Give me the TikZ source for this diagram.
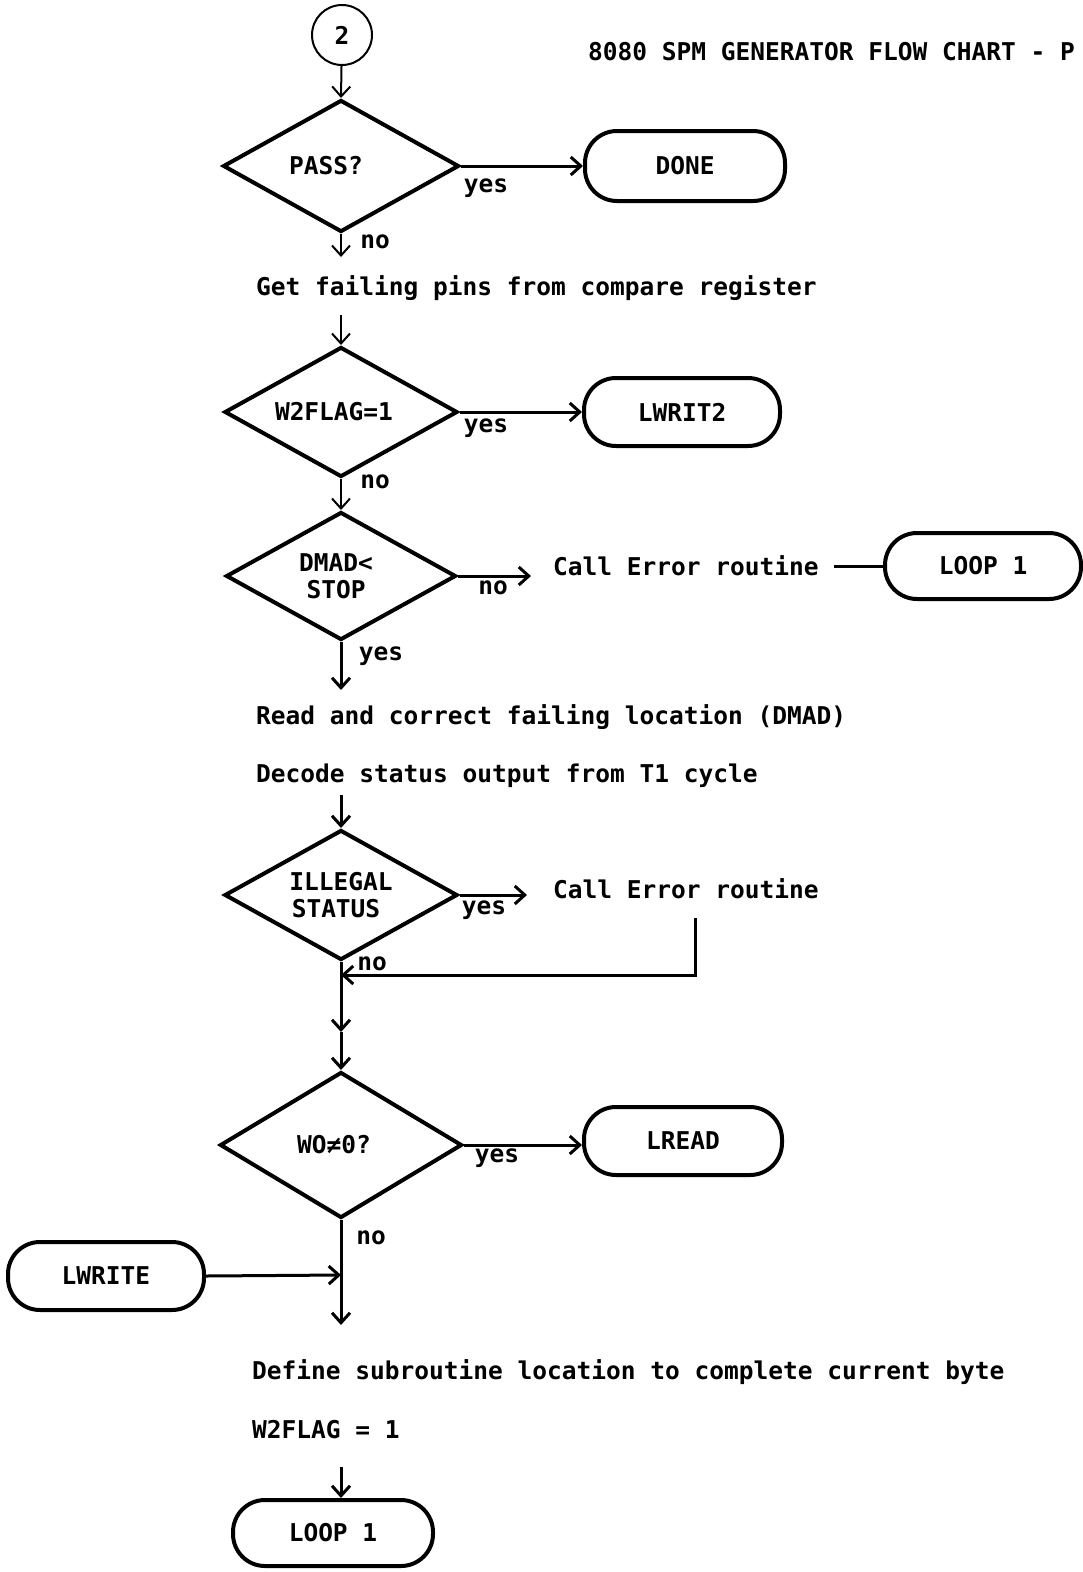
\documentclass[tikz,border=0pt]{standalone}
\usepackage{fontspec}
\setmonofont{DejaVu Sans Mono}
\usetikzlibrary{shapes.geometric,arrows.meta}
\begin{document}
\begin{tikzpicture}[x=1pt,y=-1pt,
  every node/.style={font=\ttfamily\bfseries\fontsize{24.5}{27}\selectfont},
  dec/.style={diamond, aspect=1.8, draw, line width=4pt, inner sep=0pt, align=center},
  term/.style={rectangle, draw, line width=4pt, rounded corners=32pt, minimum width=198pt, minimum height=68pt},
  conn/.style={line width=3pt, -{Straight Barb[length=10pt,width=18pt]}},
  lbl/.style={inner sep=0pt},
  txt/.style={anchor=west, inner sep=0pt}]
\useasboundingbox[fill=white] (0,0) rectangle (1082,1572);
% nodes
\node[circle,draw,line width=2pt,minimum size=60pt,inner sep=0pt] (c2) at (342,35) {2};
\node[txt] (title) at (588,52) {8080 SPM GENERATOR FLOW CHART - P};
\node[dec,minimum width=236pt,minimum height=132pt] (pass) at (341,166) {PASS?\hspace*{30pt}};
\node[term,minimum width=200pt,minimum height=70pt] (done) at (685,166) {DONE};
\node[txt] (get) at (256,288) {Get failing pins from compare register};
\node[dec,minimum width=233pt,minimum height=130pt] (w2f) at (341,412) {W2FLAG=1\hspace*{14pt}};
\node[term,minimum width=196pt] (lwrit2) at (682,412) {LWRIT2};
\node[dec,minimum width=230pt,minimum height=128pt] (dmad) at (341,576) {DMAD<\hspace*{10pt}\\STOP\hspace*{10pt}};
\node[txt] (call1) at (553,566) {Call Error routine};
\node[term,minimum width=196pt,minimum height=66pt] (loopa) at (983,566) {LOOP 1};
\node[txt] (read) at (256,717) {Read and correct failing location (DMAD)};
\node[txt] (decode) at (256,776) {Decode status output from T1 cycle};
\node[dec,minimum width=233pt,minimum height=130pt] (ill) at (341,895) {ILLEGAL\\STATUS\hspace*{10pt}};
\node[txt] (call2) at (553,889) {Call Error routine};
\node[dec,minimum width=242pt,minimum height=146pt] (wo) at (341,1145) {WO≠0?\hspace*{14pt}};
\node[term] (lread) at (683,1141) {LREAD};
\node[term,minimum width=196pt] (lwrite) at (106,1276) {LWRITE};
\node[txt] (define) at (252,1372) {Define subroutine location to complete current byte};
\node[txt] (w2set) at (252,1430) {W2FLAG = 1};
\node[term,minimum width=200pt,minimum height=66pt] (loopb) at (333,1533) {LOOP 1};
% labels
\node[lbl] (l1) at (486,188) {yes};
\node[lbl] (l2) at (375,242) {no};
\node[lbl] (l3) at (486,428) {yes};
\node[lbl] (l4) at (375,482) {no};
\node[lbl] (l5) at (493,588) {no};
\node[lbl] (l6) at (381,656) {yes};
\node[lbl] (l7) at (484,910) {yes};
\node[lbl] (l8) at (372,964) {no};
\node[lbl] (l9) at (497,1158) {yes};
\node[lbl] (l10) at (371,1238) {no};
% coordinates
\coordinate (p1) at (341,257);
\coordinate (p2) at (341,315);
\coordinate (p3) at (341,690);
\coordinate (p4) at (341,795);
\coordinate (e1) at (695,918);
\coordinate (e2) at (695,975);
\coordinate (j) at (341,975);
\coordinate (m) at (341,1032);
\coordinate (p5) at (341,1325);
\coordinate (p6) at (341,1275);
\coordinate (p7) at (341,1467);
% connectors
\draw[conn,line width=2pt] (c2) -- (pass.north);
\draw[conn] (pass.east) -- (pass.east -| done.west);
\draw[conn,line width=2pt] (pass.south) -- (p1);
\draw[conn,line width=2pt] (p2) -- (w2f.north);
\draw[conn] (w2f.east) -- (w2f.east -| lwrit2.west);
\draw[conn,line width=2pt] (w2f.south) -- (dmad.north);
\draw[conn,shorten >=22pt] (dmad.east) -- (dmad.east -| call1.west);
\draw[line width=3pt,shorten <=15pt] (call1.east) -- (loopa.west);
\draw[conn] (dmad.south) -- (p3);
\draw[conn] (p4) -- (ill.north);
\draw[conn,shorten >=26pt] (ill.east) -- (ill.east -| call2.west);
\draw[conn] (e1) -- (e2) -- (j);
\draw[conn] (ill.south) -- (m);
\draw[conn] (m) -- (wo.north);
\draw[conn] (wo.east) -- (wo.east -| lread.west);
\draw[conn] (wo.south) -- (p5);
\draw[conn] (lwrite.east) -- (p6);
\draw[conn] (p7) -- (p7 |- loopb.north);
\end{tikzpicture}
\end{document}
